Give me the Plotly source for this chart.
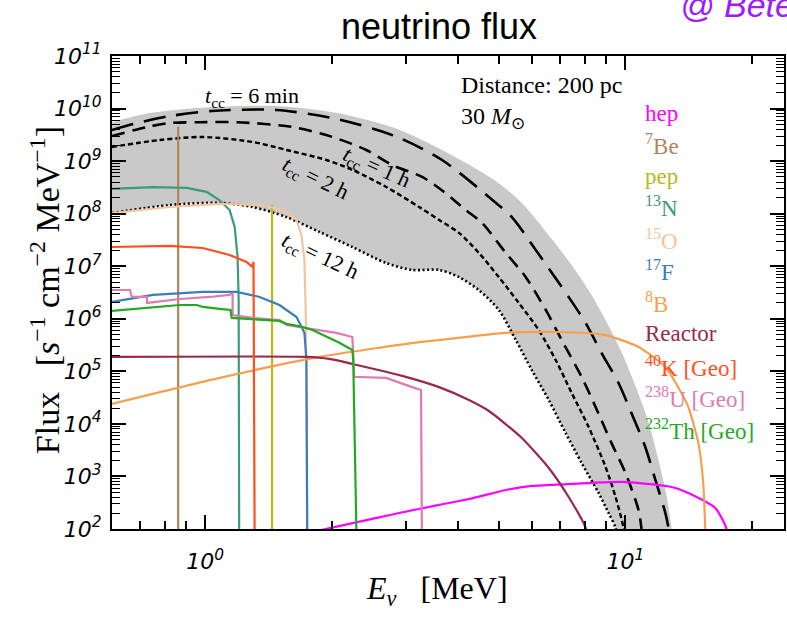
import plotly.graph_objects as go
import numpy as np

# ---------------- data (E in MeV, flux in s^-1 cm^-2 MeV^-1) ----------------
hep_E = [1.88, 2.203, 2.894, 3.601, 4.241, 5.192, 5.984, 7.445, 9.784, 12.86, 14.11, 16.35, 17.36, 17.6]
hep_F = [95, 125, 202, 287, 372, 553, 659, 719, 785, 631, 485, 251, 105, 40]

be7_E = [0.862, 0.862]
be7_F = [4.5e9, 10]

pep_E = [1.442, 1.442]
pep_F = [1.46e8, 10]

n13_E = [0.600, 0.751, 0.904, 1.008, 1.082, 1.143, 1.175, 1.194, 1.201, 1.205]
n13_F = [2.95e8, 3.2e8, 3.1e8, 2.6e8, 1.8e8, 1.17e8, 5.6e7, 1.5e7, 2.3e6, 10]

o15_E = [0.600, 0.824, 1.082, 1.369, 1.527, 1.649, 1.694, 1.722, 1.736, 1.751]
o15_F = [1.03e8, 1.34e8, 1.53e8, 1.46e8, 1.17e8, 7.6e7, 3.9e7, 1.3e7, 9.5e5, 10]

f17_E = [0.600, 0.751, 0.987, 1.188, 1.347, 1.502, 1.649, 1.722, 1.741, 1.751]
f17_F = [2.1e6, 2.84e6, 3.24e6, 3.24e6, 2.6e6, 1.83e6, 1.08e6, 5.4e5, 1.64e5, 10]

b8_E = [0.600, 1.082, 1.869, 3.228, 3.601, 5.192, 6.823, 8.967, 10.74, 12.44, 13.58, 14.11, 14.91, 15.31, 15.48, 15.55]
b8_F = [2.4e4, 7.5e4, 1.88e5, 3.6e5, 3.95e5, 5.4e5, 5.6e5, 4.9e5, 2.9e5, 1.21e5, 3.9e4, 2.1e4, 4.3e3, 750, 105, 30]

reactor_E = [0.600, 1.741, 1.974, 2.239, 2.942, 3.601, 4.241, 4.732, 5.667, 6.568, 7.324, 8.039, 8.15]
reactor_F = [1.88e5, 1.88e5, 1.72e5, 1.38e5, 8.2e4, 5.0e4, 2.85e4, 1.76e4, 5.4e3, 1.45e3, 407, 105, 40]

k40_E = [0.600, 0.824, 0.987, 1.143, 1.254, 1.296, 1.303, 1.312]
k40_F = [2.32e7, 2.43e7, 2.22e7, 1.64e7, 1.2e7, 9.7e6, 1.2e7, 10]

u238_E = [0.600, 0.662, 0.669, 0.727, 0.727, 0.870, 1.025, 1.143, 1.162, 1.162, 1.296, 1.502,
          1.561, 1.741, 1.869, 2.051, 2.239, 2.263, 2.326, 2.696, 3.107, 3.263, 3.282]
u238_F = [3.53e6, 3.53e6, 2.6e6, 2.6e6, 2.0e6, 2.38e6, 2.6e6, 2.84e6, 3.1e6, 1.18e6, 1.04e6, 9.5e5,
          7.6e5, 6.7e5, 6.1e5, 5.4e5, 4.5e5, 7.8e4, 7.8e4, 7.5e4, 5.0e4, 4.4e4, 10]

th232_E = [0.600, 0.751, 0.870, 0.955, 0.987, 1.082, 1.149, 1.156, 1.296, 1.502, 1.561, 1.703,
           1.799, 1.974, 2.085, 2.239, 2.25, 2.301]
th232_F = [1.41e6, 1.68e6, 1.83e6, 1.83e6, 1.68e6, 1.54e6, 1.47e6, 1.04e6, 9.9e5, 9.1e5, 8.0e5, 7.0e5,
           6.1e5, 4.3e5, 3.5e5, 2.55e5, 1.64e5, 10]

# pre-supernova curves for different times before core collapse
t6min_E = [0.600, 0.688, 0.824, 1.036, 1.478, 2.063, 2.862, 3.661, 4.732, 5.365, 6.116, 7.324, 8.039,
           8.773, 9.625, 10.33, 11.15, 11.78, 12.44, 12.65, 12.75]
t6min_F = [3.91e9, 5.3e9, 7.2e9, 9.0e9, 9.4e9, 6.3e9, 2.88e9, 1.05e9, 2.07e8, 8.6e7, 2.04e7, 2.6e6, 8.3e5,
           2.23e5, 6.0e4, 1.61e4, 3.6e3, 857, 202, 105, 40]

t1h_E = [0.600, 0.727, 0.824, 0.970, 1.188, 1.613, 2.007, 2.416, 2.786, 3.282, 3.701, 4.172, 4.554,
         5.192, 5.792, 6.461, 7.050, 7.865, 8.489, 9.265, 10.0, 10.74, 10.91, 11.0]
t1h_F = [3.0e9, 4.46e9, 5.3e9, 5.5e9, 5.5e9, 4.46e9, 2.88e9, 1.63e9, 8.4e8, 5.0e8, 2.59e8, 1.17e8, 6.7e7,
         1.79e7, 6.2e6, 1.47e6, 3.95e5, 7.8e4, 2.1e4, 4.3e3, 1.16e3, 230, 105, 50]

t2h_E = [0.600, 0.780, 0.987, 1.296, 1.561, 1.942, 2.239, 2.696, 3.228, 3.601, 4.016, 4.480, 4.997,
         5.575, 6.217, 6.823, 7.445, 8.172, 8.967, 9.470, 9.893, 10.0]
t2h_F = [1.86e9, 2.52e9, 2.88e9, 2.31e9, 1.63e9, 1.05e9, 6.8e8, 3.22e8, 1.34e8, 7.6e7, 4.3e7, 1.79e7, 6.2e6,
         2.0e6, 6.1e5, 1.64e5, 3.9e4, 8.7e3, 1.51e3, 407, 105, 50]

t12h_E = [0.600, 0.824, 1.082, 1.296, 1.561, 1.869, 2.239, 2.696, 3.107, 3.601, 4.016, 4.480, 4.997,
          5.484, 5.984, 6.568, 7.206, 7.865, 8.630, 9.115, 9.470, 9.57]
t12h_F = [1.03e8, 1.46e8, 1.60e8, 1.34e8, 8.6e7, 4.5e7, 2.32e7, 1.15e7, 8.5e6, 8.5e6, 6.2e6, 3.5e6, 1.47e6,
          3.95e5, 1.06e5, 2.85e4, 6.7e3, 1.8e3, 485, 202, 105, 50]

# upper envelope of the grey band
band_E = [0.600, 0.739, 1.036, 1.478, 2.063, 2.862, 3.661, 4.863, 5.667, 6.568, 7.445, 8.172, 8.967,
          9.784, 10.56, 11.34, 11.98, 12.51, 12.86, 13.0]
band_F = [5.5e9, 8.2e9, 1.07e10, 1.12e10, 8.2e9, 4.1e9, 1.63e9, 4.4e8, 1.6e8, 3.9e7, 1.06e7, 3.5e6, 9.5e5,
          2.33e5, 5.3e4, 1.09e4, 2.06e3, 445, 105, 20]

x_tickvals = [1, 10]
x_ticktext = ["10<sup>0</sup>", "10<sup>1</sup>"]
x_minor = [0.7, 0.8, 0.9, 2, 3, 4, 5, 6, 7, 8, 9, 20]
y_exps = list(range(2, 12))
y_tickvals = [10.0 ** e for e in y_exps]
y_ticktext = ["10<sup>%d</sup>" % e for e in y_exps]
y_minor = [k * 10.0 ** e for e in range(2, 11) for k in range(2, 10)]

labels = ["hep", "<sup>7</sup>Be", "pep", "<sup>13</sup>N", "<sup>15</sup>O", "<sup>17</sup>F",
          "<sup>8</sup>B", "Reactor", "<sup>40</sup>K [Geo]", "<sup>238</sup>U [Geo]", "<sup>232</sup>Th [Geo]"]
colors = ["#ff00ff", "#b5835a", "#b8b81c", "#3c9c78", "#f6c39f", "#3a7dbb",
          "#f6a04d", "#99284a", "#ff4f1f", "#e07ab3", "#1faa1f"]

# ---------------- figure ----------------
fig = go.Figure()

# grey band between upper envelope and 12 h curve
fig.add_trace(go.Scatter(
    x=band_E + t12h_E[::-1], y=band_F + t12h_F[::-1],
    mode="lines", fill="toself", fillcolor="#c9c9c9",
    line=dict(width=0, shape="spline", smoothing=0.8), hoverinfo="skip"))

# band curves
fig.add_trace(go.Scatter(x=t6min_E, y=t6min_F, mode="lines",
                         line=dict(color="black", width=2.6, dash="22px,11px", shape="spline", smoothing=0.8)))
fig.add_trace(go.Scatter(x=t1h_E, y=t1h_F, mode="lines",
                         line=dict(color="black", width=2.6, dash="13px,8px", shape="spline", smoothing=0.8)))
fig.add_trace(go.Scatter(x=t2h_E, y=t2h_F, mode="lines",
                         line=dict(color="black", width=2.4, dash="5px,3px", shape="spline", smoothing=0.8)))
fig.add_trace(go.Scatter(x=t12h_E, y=t12h_F, mode="lines",
                         line=dict(color="black", width=2.6, dash="2px,2.5px", shape="spline", smoothing=0.8)))

series = [
    (hep_E, hep_F, 0, "spline"),
    (be7_E, be7_F, 1, "linear"),
    (pep_E, pep_F, 2, "linear"),
    (n13_E, n13_F, 3, "linear"),
    (o15_E, o15_F, 4, "linear"),
    (f17_E, f17_F, 5, "linear"),
    (b8_E, b8_F, 6, "spline"),
    (reactor_E, reactor_F, 7, "spline"),
    (k40_E, k40_F, 8, "linear"),
    (u238_E, u238_F, 9, "linear"),
    (th232_E, th232_F, 10, "linear"),
]
for ex, fy, ci, shp in series:
    fig.add_trace(go.Scatter(x=ex, y=fy, mode="lines",
                             line=dict(color=colors[ci], width=2.2, shape=shp, smoothing=0.6),
                             hoverinfo="skip"))

# ---------------- layout ----------------
L, R, T, B = 112, 786, 56, 529
W, H = R - L, B - T


def px(x):
    return (x - L) / W


def py(y):
    return (B - y) / H


serif = "Liberation Serif, Times New Roman, serif"
ann = []
# title and tag
ann.append(dict(text="neutrino flux", x=px(440), y=py(27), xref="paper", yref="paper",
                showarrow=False, xanchor="center", yanchor="middle",
                font=dict(family="Liberation Sans, Arial, sans-serif", size=36, color="black")))
ann.append(dict(text="@ Betelgeuse", x=px(680), y=py(5), xref="paper", yref="paper",
                showarrow=False, xanchor="left", yanchor="middle",
                font=dict(family="Liberation Sans, Arial, sans-serif", size=34, color="#9b1dff", style="italic")))
# axis titles
ann.append(dict(text="Flux&nbsp;&nbsp;&nbsp;[<i>s</i><sup>\u22121</sup>&nbsp;cm<sup>\u22122</sup>&nbsp;MeV<sup>\u22121</sup>]",
                x=px(45), y=py(290), xref="paper", yref="paper", textangle=-90,
                showarrow=False, xanchor="center", yanchor="middle",
                font=dict(family=serif, size=34, color="black")))
ann.append(dict(text="<i>E</i><sub><i>\u03bd</i></sub>&nbsp;&nbsp; [MeV]",
                x=px(438), y=py(590), xref="paper", yref="paper",
                showarrow=False, xanchor="center", yanchor="middle",
                font=dict(family=serif, size=32, color="black")))
# curve labels
tfont = dict(family=serif, size=22, color="black")
ann.append(dict(text="<i>t</i><sub>cc</sub> = 6 min", x=px(252), y=py(97), xref="paper", yref="paper",
                showarrow=False, xanchor="center", yanchor="middle", font=tfont))
ann.append(dict(text="<i>t</i><sub>cc</sub> = 1 h", x=px(377), y=py(168), xref="paper", yref="paper",
                showarrow=False, xanchor="center", yanchor="middle", textangle=24, font=tfont))
ann.append(dict(text="<i>t</i><sub>cc</sub> = 2 h", x=px(316), y=py(179), xref="paper", yref="paper",
                showarrow=False, xanchor="center", yanchor="middle", textangle=26, font=tfont))
ann.append(dict(text="<i>t</i><sub>cc</sub> = 12 h", x=px(321), y=py(257), xref="paper", yref="paper",
                showarrow=False, xanchor="center", yanchor="middle", textangle=25, font=tfont))
# info text
ann.append(dict(text="Distance: 200 pc", x=px(460), y=py(85), xref="paper", yref="paper",
                showarrow=False, xanchor="left", yanchor="middle", font=dict(family=serif, size=24, color="black")))
ann.append(dict(text="30 <i>M</i><sub>\u2299</sub>", x=px(460), y=py(118), xref="paper", yref="paper",
                showarrow=False, xanchor="left", yanchor="middle", font=dict(family=serif, size=24, color="black")))
# coloured legend
leg_y = [113, 144, 176, 207, 239, 270, 302, 333, 366, 397, 429]
for lab, col, yy in zip(labels, colors, leg_y):
    ann.append(dict(text=lab, x=px(645), y=py(yy), xref="paper", yref="paper",
                    showarrow=False, xanchor="left", yanchor="middle",
                    font=dict(family=serif, size=23, color=col)))

fig.update_layout(
    width=787, height=621,
    margin=dict(l=L, r=787 - R, t=T, b=621 - B),
    paper_bgcolor="white", plot_bgcolor="white",
    showlegend=False, annotations=ann,
)

axis_common = dict(type="log", showline=True, linecolor="black", linewidth=2, mirror="ticks",
                   ticks="inside", ticklen=14, tickwidth=1.6, tickcolor="black",
                   showgrid=False, zeroline=False,
                   tickfont=dict(family="DejaVu Sans", size=22, color="black", style="italic"))
fig.update_xaxes(**axis_common, range=[np.log10(0.6), np.log10(0.6) + W / 421.5],
                 tickmode="array", tickvals=x_tickvals, ticktext=x_ticktext, ticklabelstandoff=12,
                 minor=dict(tickmode="array", tickvals=x_minor, ticks="inside", ticklen=8,
                            tickwidth=1.6, tickcolor="black", showgrid=False))
fig.update_yaxes(**axis_common, range=[2, 11],
                 tickmode="array", tickvals=y_tickvals, ticktext=y_ticktext, ticklabelstandoff=4,
                 minor=dict(tickmode="array", tickvals=y_minor, ticks="inside", ticklen=8,
                            tickwidth=1.4, tickcolor="black", showgrid=False))

fig.write_html("out.html", config={"displayModeBar": False},
               post_script="document.body.style.margin='0px';")
